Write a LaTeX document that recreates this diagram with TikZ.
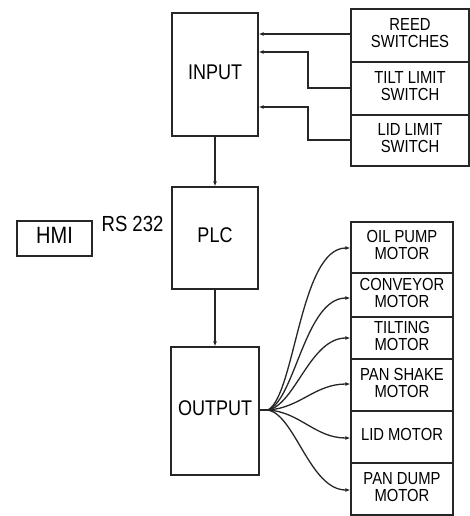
\documentclass[tikz,border=0pt]{standalone}
\usepackage{fontspec}
\setmainfont{Liberation Sans}
\usetikzlibrary{arrows.meta,calc}
\newcommand{\tl}[1]{\scalebox{1}[1.18]{\begin{tabular}{@{}c@{}}#1\end{tabular}}}
\tikzset{
  box/.style={draw=black!85, line width=1.3pt, inner sep=0pt, align=center, fill=white},
  big/.style={box, font=\fontsize{18}{20}\selectfont},
  small/.style={box, font=\fontsize{14.8}{13.8}\selectfont},
  rbox/.style={small, minimum width=118pt},
  mbox/.style={small, minimum width=102pt},
  arr/.style={draw=black!85, line width=1.3pt, -{Latex[length=5pt,width=4pt]}},
}
\begin{document}
\begin{tikzpicture}[x=1pt,y=-1pt]
\useasboundingbox (0,0) rectangle (470,516);
% main blocks
\node[big, minimum width=86pt, minimum height=123pt] (input) at (215,74.5) {\tl{INPUT}};
\node[big, minimum width=86pt, minimum height=102pt] (plc) at (215,238) {\tl{PLC}};
\node[big, minimum width=88pt, minimum height=128pt] (output) at (215,411) {\tl{OUTPUT}};
\node[box, font=\fontsize{20}{22}\selectfont, minimum width=75pt, minimum height=35pt] (hmi) at (54.5,238.5) {\tl{HMI}};
\node[font=\fontsize{18.5}{20}\selectfont, inner sep=0pt] (rs) at (132.5,227) {\tl{RS 232}};
% input devices
\node[rbox, minimum height=53pt] (reed) at (410,35.5) {\tl{REED\\SWITCHES}};
\node[rbox, minimum height=53pt] (tilt) at (410,88.5) {\tl{TILT LIMIT\\SWITCH}};
\node[rbox, minimum height=51pt] (lid) at (410,140.5) {\tl{LID LIMIT\\SWITCH}};
% motors
\node[mbox, minimum height=51pt] (oil) at (402,247.5) {\tl{OIL PUMP\\MOTOR}};
\node[mbox, minimum height=44pt] (conv) at (402,295) {\raisebox{-6pt}{\tl{CONVEYOR\\MOTOR}}};
\node[mbox, minimum height=42pt] (tiltm) at (402,338) {\tl{TILTING\\MOTOR}};
\node[mbox, minimum height=52pt] (shake) at (402,385) {\tl{PAN SHAKE\\MOTOR}};
\node[mbox, minimum height=52pt] (lidm) at (402,437) {\tl{LID MOTOR}};
\node[mbox, minimum height=52pt] (dump) at (402,489) {\tl{PAN DUMP\\MOTOR}};
% input connections
\draw[arr] (reed.west |- 0,34) -- (input.east |- 0,34);
\draw[arr] (tilt.west |- 0,88) -- (308,88) |- (input.east |- 0,52);
\draw[arr] (lid.west |- 0,140) -- (308,140) |- (input.east |- 0,107);
% vertical flow
\draw[arr] (input.south) -- (input.south |- plc.north);
\draw[arr] (plc.south) -- (plc.south |- output.north);
% output fan
\coordinate (src) at (268,410);
\draw[draw=black!85, line width=2.2pt] (output.east |- src) -- (src);
\draw[arr] (src) .. controls (295,395) and (300,248) .. (oil.west |- 0,248);
\draw[arr] (src) .. controls (295,400) and (305,298) .. (conv.west |- 0,298);
\draw[arr] (src) .. controls (295,405) and (310,338) .. (tiltm.west);
\draw[arr] (src) .. controls (300,408) and (315,384) .. (shake.west |- 0,384);
\draw[arr] (src) .. controls (300,412) and (315,438) .. (lidm.west |- 0,438);
\draw[arr] (src) .. controls (295,415) and (310,490) .. (dump.west |- 0,490);
\end{tikzpicture}
\end{document}
